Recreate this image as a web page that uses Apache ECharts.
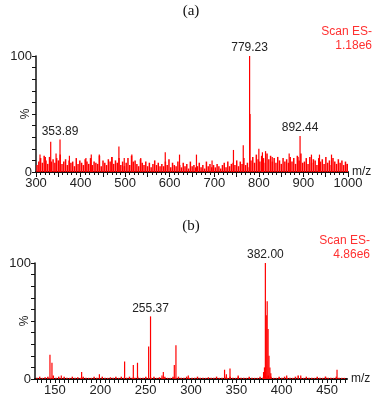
<!DOCTYPE html>
<html>
<head>
<meta charset="utf-8">
<script src="https://cdn.jsdelivr.net/npm/echarts@6/dist/echarts.min.js"></script>
<style>
html, body { margin: 0; padding: 0; background: #fff; }
#main { width: 382px; height: 406px; }
</style>
</head>
<body>
<div id="main"></div>
<script>
// panel (a): background noise, one value every 4 m/z starting at 302
var noiseA_start = 302, noiseA_step = 4;
var noiseA = [
    6, 9, 12, 8, 14, 10, 7, 13, 9, 11,
    8, 12, 10, 15, 7, 9, 11, 6, 10, 8,
    9, 5, 12, 7, 10, 8, 6, 11, 9, 7,
    12, 6, 9, 8, 7, 14, 5, 10, 8, 6,
    11, 9, 13, 7, 10, 8, 12, 6, 9, 5,
    8, 12, 6, 14, 9, 10, 7, 5, 11, 8,
    6, 9, 5, 8, 4, 7, 10, 6, 8, 5,
    7, 5, 9, 6, 11, 4, 8, 6, 5, 9,
    6, 4, 8, 5, 7, 3, 9, 5, 6, 4,
    5, 8, 4, 6, 3, 9, 5, 7, 4, 6,
    4, 7, 5, 3, 6, 8, 4, 9, 5, 7,
    8, 6, 10, 5, 9, 7, 12, 6, 8, 4,
    10, 13, 8, 15, 11, 9, 14, 12, 8, 16,
    11, 14, 9, 12, 8, 13, 10, 7, 12, 9,
    11, 8, 13, 9, 12, 7, 14, 10, 16, 8,
    9, 12, 7, 13, 8, 11, 10, 6, 12, 9,
    11, 7, 13, 8, 10, 6, 12, 9, 7, 11,
    8, 10, 6, 9, 7
];
// panel (a): distinct peaks
var peakA_mz  = [309, 321, 333, 345, 353.89, 375, 412, 424, 442, 470, 486, 498, 515, 535, 590, 622, 660, 695, 743, 765, 779.23, 780.2, 800, 808, 815, 830, 868, 888, 892.44, 918, 936, 963, 995];
var peakA_int = [15, 13, 26, 16, 28, 14, 12, 15, 15, 13, 22, 12, 15, 12, 17, 15, 15, 10, 19, 23, 100, 50, 20, 17, 18, 13, 16, 13, 31, 15, 15, 15, 7];
var labelsA = ['353.89', '779.23', '892.44'];

// panel (b): background noise, one value every 3 m/z starting at 130
var noiseB_start = 130, noiseB_step = 3;
var noiseB = [
    1, 2, 1, 1.5, 2, 1, 3, 1, 2, 1,
    2, 1, 1, 2, 1, 1.5, 1, 2, 1, 1,
    1, 2, 1, 1, 2, 1, 1, 1.5, 1, 2,
    1, 2, 1, 1, 2, 1, 1, 2, 1, 1,
    2, 1, 1, 2, 1, 1.5, 1, 2, 1, 1,
    2, 1, 2, 1, 1, 2, 1, 1, 1, 2,
    1, 1, 1, 1.5, 1, 1, 2, 1, 1, 2,
    1, 2, 1, 1, 2, 1, 1, 1, 2, 1,
    1, 1, 2, 1, 2, 3, 2, 1, 1, 2,
    1, 2, 1, 1, 1, 2, 3, 1, 1, 2,
    1, 1, 1, 2, 1, 1, 2, 1, 1, 1,
    2, 1, 1, 1
];
var peakB_mz  = [144.5, 146.7, 157, 179.4, 199, 226.8, 236.4, 241, 253.3, 255.37, 268, 269.5, 281.6, 283.4, 297, 337, 339, 343, 352, 380, 381, 382.00, 383, 384, 385, 386, 387, 388, 405.5, 421, 448.5, 461];
var peakB_int = [21, 14, 3, 6, 4, 15, 12, 14, 28, 54, 3, 6, 12, 29, 3, 8, 4, 9, 3, 6, 10, 100, 55, 67, 43, 20, 10, 5, 3, 3, 2, 8];
var labelsB = ['255.37', '382.00'];

var xTicksA = [300, 400, 500, 600, 700, 800, 900, 1000];
var xTicksB = [150, 200, 250, 300, 350, 400, 450];

function noiseData(start, step, vals) {
    return vals.map(function (v, i) { return [start + i * step, v]; });
}
function peakData(mz, ints, labels) {
    return mz.map(function (m, i) {
        var txt = m.toFixed(2);
        if (labels.indexOf(txt) >= 0) {
            return { value: [m, ints[i]], label: { show: true, formatter: txt } };
        }
        return [m, ints[i]];
    });
}
var minorB = [];
for (var t = 130; t <= 470; t += 5) minorB.push(t);

var font = 'Liberation Sans, Arial, sans-serif';
var red = '#ff0000';

function yAxis(idx) {
    return {
        gridIndex: idx, type: 'value', min: 0, max: 100, interval: 10,
        name: '%', nameLocation: 'middle', nameGap: 4, nameRotate: 90, nameMoveOverlap: false,
        nameTextStyle: { color: '#222', fontSize: 12, fontFamily: font },
        axisLine: { show: true, lineStyle: { color: '#111', width: 1.5 } },
        axisTick: { length: 4, lineStyle: { color: '#111' } },
        axisLabel: {
            color: '#222', fontSize: 13, fontFamily: font, margin: 4,
            formatter: function (v) { return (v === 0 || v === 100) ? String(v) : ''; }
        },
        splitLine: { show: false }
    };
}

var myChart = echarts.init(document.getElementById('main'));

var option = {
    animation: false,
    backgroundColor: '#fff',
    grid: [
        { left: 36, top: 56, width: 312, height: 116 },
        { left: 35, top: 263, width: 312, height: 116 }
    ],
    xAxis: [{
        gridIndex: 0, type: 'value', min: 300, max: 1000, interval: 50,
        name: 'm/z', nameLocation: 'end', nameGap: 4, nameMoveOverlap: false,
        nameTextStyle: { color: '#222', fontSize: 12, fontFamily: font, verticalAlign: 'middle' },
        axisLine: { lineStyle: { color: '#111', width: 2 } },
        axisTick: { length: 5, lineStyle: { color: '#111' } },
        minorTick: { show: true, splitNumber: 5, length: 3, lineStyle: { color: '#111' } },
        axisLabel: {
            color: '#222', fontSize: 13, fontFamily: font, margin: 5, showMaxLabel: true,
            customValues: xTicksA,
            formatter: function (v) { return String(v); }
        },
        splitLine: { show: false }
    }, {
        gridIndex: 1, type: 'value', min: 128, max: 472,
        name: 'm/z', nameLocation: 'end', nameGap: 4, nameMoveOverlap: false,
        nameTextStyle: { color: '#222', fontSize: 12, fontFamily: font, verticalAlign: 'middle' },
        axisLine: { lineStyle: { color: '#111', width: 2 } },
        axisTick: { length: 4, lineStyle: { color: '#111' }, customValues: minorB },
        axisLabel: {
            color: '#222', fontSize: 13, fontFamily: font, margin: 5, customValues: xTicksB,
            formatter: function (v) { return String(v); }
        },
        splitLine: { show: false }
    }],
    yAxis: [yAxis(0), yAxis(1)],
    graphic: [
        { type: 'text', left: 'center', top: 4, style: { text: '(a)', font: '15px "Liberation Serif"', fill: '#111' } },
        { type: 'text', left: 'center', top: 219, style: { text: '(b)', font: '15px "Liberation Serif"', fill: '#111' } },
        { type: 'text', x: 372, y: 25, style: { text: 'Scan ES-\n1.18e6', font: '12px "Liberation Sans"', fill: '#ff3030', align: 'right', lineHeight: 14 } },
        { type: 'text', x: 370, y: 234, style: { text: 'Scan ES-\n4.86e6', font: '12px "Liberation Sans"', fill: '#ff3030', align: 'right', lineHeight: 14 } }
    ],
    series: [{
        type: 'bar', xAxisIndex: 0, yAxisIndex: 0, barWidth: 1.5, barGap: '-100%',
        itemStyle: { color: red }, data: noiseData(noiseA_start, noiseA_step, noiseA)
    }, {
        type: 'bar', xAxisIndex: 0, yAxisIndex: 0, barWidth: 1.2, barGap: '-100%',
        itemStyle: { color: red },
        label: { position: 'top', distance: 2, color: '#222', fontSize: 12, fontFamily: font },
        data: peakData(peakA_mz, peakA_int, labelsA)
    }, {
        type: 'bar', xAxisIndex: 1, yAxisIndex: 1, barWidth: 1.5, barGap: '-100%',
        itemStyle: { color: red }, data: noiseData(noiseB_start, noiseB_step, noiseB)
    }, {
        type: 'bar', xAxisIndex: 1, yAxisIndex: 1, barWidth: 1.2, barGap: '-100%',
        itemStyle: { color: red },
        label: { position: 'top', distance: 2, color: '#222', fontSize: 12, fontFamily: font },
        data: peakData(peakB_mz, peakB_int, labelsB)
    }]
};

myChart.setOption(option);
</script>
</body>
</html>
